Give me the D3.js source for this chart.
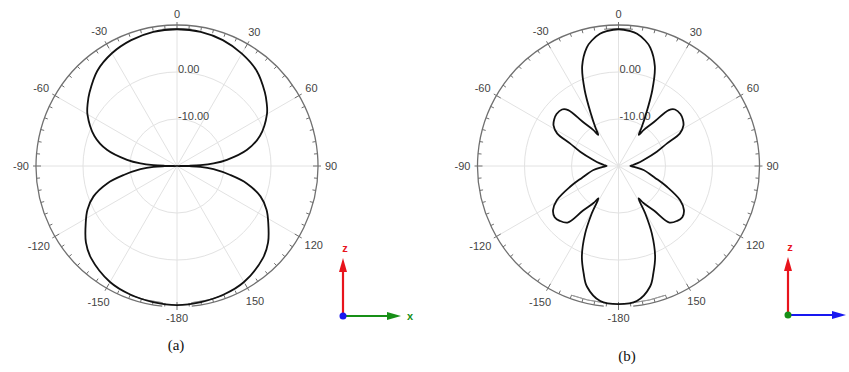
<!DOCTYPE html>
<html>
<head>
<meta charset="utf-8">
<script src="https://cdn.jsdelivr.net/npm/d3@7"></script>
<style>
  html, body { margin: 0; padding: 0; background: #fff; }
  svg { display: block; }
</style>
</head>
<body>
<svg id="chart" width="849" height="372"></svg>
<script>
// ---- data (angles in degrees, gain in dB) ----
const angleTickLabels = ["0", "30", "60", "90", "120", "150", "-180", "-150", "-120", "-90", "-60", "-30"];
const angleTickValues = [0, 30, 60, 90, 120, 150, 180, 210, 240, 270, 300, 330];
const ringValues = [-10, 0];
const ringLabels = ["-10.00", "0.00"];
const radialDomain = [-20, 10];

const anglesA = [-180, -170, -160, -150, -137, -130, -122, -116, -110, -104, -99.6, -95, -92, -91, -90,
  -89, -88, -86, -83, -77, -70, -60, -55, -50, -40, -30, -20, -10, 0, 10, 20, 30, 40, 50, 55, 60, 70, 77, 83, 86, 88, 89, 90,
  91, 92, 95, 99.6, 104, 110, 116, 122, 130, 137, 150, 160, 170];
const gainA = [9.6, 9.4, 9.1, 8.5, 6.8, 5.3, 2.9, 1.2, -1.1, -4.7, -8.5, -12.2, -15.0, -17.4, -22,
  -17.4, -15.0, -12.2, -9.3, -4.7, -1.3, 2.0, 3.2, 4.3, 6.4, 7.7, 8.5, 9.0, 9.1, 9.0, 8.5, 7.6, 6.4, 4.4, 3.3, 2.1, -1.2, -4.7, -9.3, -12.2, -15.0, -17.4, -22,
  -17.4, -15.0, -12.2, -8.5, -4.7, -1.1, 1.2, 2.9, 5.3, 6.8, 8.5, 9.1, 9.4];

const anglesB = [-180, -172.3, -165.3, -162, -158, -153.7, -150.6, -148.2, -146, -141.4, -138, -133, -128.7, -124, -119, -113.2, -108, -99, -94, -90,
  -86, -82, -76.5, -69.5, -65, -62, -58, -54, -50, -45, -42, -39, -35, -33, -31, -28, -24, -20, -15, -12, -8, -5,
  0, 5, 8, 12, 15, 20, 24, 28, 31, 33, 35, 39, 42, 45, 50, 54, 58, 62, 65, 69.5, 76.5, 82, 86,
  90, 94, 99, 108, 113.2, 119, 124, 128.7, 133, 138, 141.4, 146, 148.2, 150.6, 153.7, 158, 162, 165.3, 172.3];
const gainB = [9.4, 9.0, 6.5, 4.0, 0.8, -4.0, -8.4, -11.9, -10.5, -7.8, -3.8, -2.9, -2.6, -3.2, -5.0, -8.8, -11.8, -14.6, -16.5, -17.5,
  -16.9, -16.0, -14.5, -11.3, -8.6, -5.2, -3.7, -3.1, -2.8, -3.0, -4.0, -7.9, -10.6, -12.1, -10.5, -7.6, -2.3, 2.6, 6.1, 7.3, 8.4, 8.8,
  9.1, 8.8, 8.4, 7.3, 6.1, 2.6, -2.3, -7.6, -10.5, -12.1, -10.6, -7.9, -4.0, -3.0, -2.8, -3.1, -3.7, -5.2, -8.6, -11.3, -14.5, -16.0, -16.9,
  -17.5, -16.5, -14.6, -11.8, -8.8, -5.0, -3.2, -2.6, -2.9, -3.8, -7.8, -10.5, -11.9, -8.4, -4.0, 0.8, 4.0, 6.5, 9.0];

const captions = ["(a)", "(b)"];

// ---- drawing ----
const svg = d3.select("#chart");
const R = 141;
const rScale = d3.scaleLinear().domain(radialDomain).range([0, R]).clamp(true);
const toRad = d => d * Math.PI / 180;

const charts = [
  { cx: 177, cy: 166, angles: anglesA, gains: gainA, cap: captions[0], capX: 176, capY: 350,
    triad: { ox: 343, oy: 316, up: "#e8141c", right: "#178f17", dot: "#1818f0", rlabel: "x" } },
  { cx: 618.5, cy: 166, angles: anglesB, gains: gainB, cap: captions[1], capX: 627, capY: 361,
    triad: { ox: 788, oy: 315, up: "#e8141c", right: "#1818f0", dot: "#178f17", rlabel: null } }
];

charts.forEach(c => {
  const g = svg.append("g").attr("transform", `translate(${c.cx},${c.cy})`);

  // spokes
  d3.range(0, 360, 30).forEach(a => {
    g.append("line")
      .attr("x1", 0).attr("y1", 0)
      .attr("x2", R * Math.sin(toRad(a))).attr("y2", -R * Math.cos(toRad(a)))
      .attr("stroke", "#e2e2e2").attr("stroke-width", 1);
  });
  // rings
  ringValues.forEach(v => {
    g.append("circle").attr("r", rScale(v))
      .attr("fill", "none").attr("stroke", "#e2e2e2").attr("stroke-width", 1);
  });

  // outer circle, with a small gap at the bottom
  const arcGen = d3.arc();
  g.append("path")
    .attr("d", arcGen({ innerRadius: R, outerRadius: R, startAngle: toRad(-174), endAngle: toRad(174) }))
    .attr("fill", "none").attr("stroke", "#707070").attr("stroke-width", 1.3);
  // inner arc fragments near 0 and 180
  [[-6, 6], [160, 174], [186, 200]].forEach(([a0, a1]) => {
    g.append("path").attr("d", arcGen({ innerRadius: R - 3.5, outerRadius: R - 3.5, startAngle: toRad(a0), endAngle: toRad(a1) }))
      .attr("fill", "none").attr("stroke", "#9a9a9a").attr("stroke-width", 1);
  });
  // ticks
  d3.range(0, 360, 5).forEach(a => {
    const major = a % 30 === 0;
    const r0 = major ? R - 5 : R - 3.5;
    const r1 = major ? R + 3 : R;
    const s = Math.sin(toRad(a)), co = Math.cos(toRad(a));
    g.append("line")
      .attr("x1", r0 * s).attr("y1", -r0 * co)
      .attr("x2", r1 * s).attr("y2", -r1 * co)
      .attr("stroke", "#707070").attr("stroke-width", 1);
  });

  // angle labels
  angleTickValues.forEach((a, i) => {
    const s = Math.sin(toRad(a)), co = Math.cos(toRad(a));
    const t = g.append("text").text(angleTickLabels[i])
      .attr("font-family", "'Liberation Sans', Arial, sans-serif")
      .attr("font-size", 11).attr("fill", "#444")
      .attr("text-anchor", "middle").attr("dominant-baseline", "central");
    const w = t.node().getComputedTextLength();
    const off = R + 7 + Math.abs(s) * w / 2 + Math.abs(co) * 4;
    t.attr("x", off * s).attr("y", -off * co);
  });

  // ring labels
  ringValues.forEach((v, i) => {
    g.append("text").text(ringLabels[i])
      .attr("x", 1).attr("y", -rScale(v) + 0.5)
      .attr("font-family", "'Liberation Sans', Arial, sans-serif")
      .attr("font-size", 11).attr("fill", "#444");
  });

  // pattern curve
  const pts = c.angles.map((a, i) => [a, c.gains[i]]);
  const line = d3.lineRadial()
    .angle(d => toRad(d[0]))
    .radius(d => rScale(d[1]))
    .curve(d3.curveCatmullRomClosed.alpha(0.5));
  g.append("path").attr("d", line(pts))
    .attr("fill", "none").attr("stroke", "#111").attr("stroke-width", 1.8)
    .attr("stroke-linejoin", "round");

  // caption
  svg.append("text").text(c.cap)
    .attr("x", c.capX).attr("y", c.capY)
    .attr("text-anchor", "middle")
    .attr("font-family", "'Liberation Serif', 'Times New Roman', serif")
    .attr("font-size", 15).attr("fill", "#111");

  // axis triad
  const t = c.triad;
  const tg = svg.append("g").attr("transform", `translate(${t.ox},${t.oy})`);
  tg.append("line").attr("x1", 0).attr("y1", 0).attr("x2", 0).attr("y2", -46)
    .attr("stroke", t.up).attr("stroke-width", 2.2);
  tg.append("path").attr("d", "M0,-58 L-4,-44 L4,-44 Z").attr("fill", t.up);
  tg.append("text").text("z").attr("x", 2).attr("y", -64)
    .attr("text-anchor", "middle")
    .attr("font-family", "'Liberation Sans', Arial, sans-serif").attr("font-size", 11)
    .attr("font-weight", "bold").attr("fill", t.up);
  tg.append("line").attr("x1", 0).attr("y1", 0).attr("x2", 46).attr("y2", 0)
    .attr("stroke", t.right).attr("stroke-width", 2.2);
  tg.append("path").attr("d", "M58,0 L44,-4 L44,4 Z").attr("fill", t.right);
  if (t.rlabel) {
    tg.append("text").text(t.rlabel).attr("x", 67).attr("y", 0)
      .attr("text-anchor", "middle").attr("dominant-baseline", "central")
      .attr("font-family", "'Liberation Sans', Arial, sans-serif").attr("font-size", 11)
      .attr("font-weight", "bold").attr("fill", t.right);
  }
  tg.append("circle").attr("r", 3.5).attr("fill", t.dot);
});
</script>
</body>
</html>
